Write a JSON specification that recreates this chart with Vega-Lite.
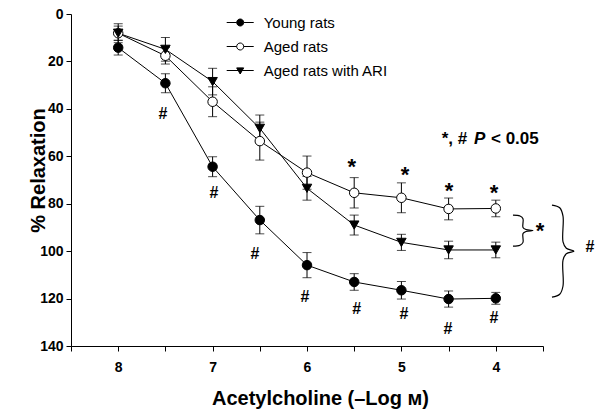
{
  "$schema": "https://vega.github.io/schema/vega-lite/v6.json",
  "width": 472,
  "height": 332,
  "autosize": {"type": "none"},
  "padding": {"left": 71, "top": 14, "right": 59, "bottom": 70},
  "background": "white",
  "config": {
    "view": {"stroke": null},
    "font": "Liberation Sans",
    "axis": {"grid": false, "domainColor": "black", "tickColor": "black", "labelColor": "black", "titleColor": "black", "labelFont": "Liberation Sans", "titleFont": "Liberation Sans", "labelFontWeight": "bold", "titleFontWeight": "bold", "labelFontSize": 14, "titleFontSize": 20, "tickSize": 5, "domainWidth": 1, "tickWidth": 1}
  },
  "datasets": {
    "rats": [
      {"series": "Young rats", "conc": 8, "mean": 14.2, "err": 3.1},
      {"series": "Young rats", "conc": 7.5, "mean": 29.2, "err": 4},
      {"series": "Young rats", "conc": 7, "mean": 64.4, "err": 4.2},
      {"series": "Young rats", "conc": 6.5, "mean": 86.9, "err": 5.8},
      {"series": "Young rats", "conc": 6, "mean": 105.9, "err": 5.3},
      {"series": "Young rats", "conc": 5.5, "mean": 113.0, "err": 3.5},
      {"series": "Young rats", "conc": 5, "mean": 116.5, "err": 3.7},
      {"series": "Young rats", "conc": 4.5, "mean": 120.2, "err": 3.4},
      {"series": "Young rats", "conc": 4, "mean": 119.9, "err": 2.5},
      {"series": "Aged rats", "conc": 8, "mean": 8.1, "err": 3},
      {"series": "Aged rats", "conc": 7.5, "mean": 17.6, "err": 3.5},
      {"series": "Aged rats", "conc": 7, "mean": 37.0, "err": 6.3},
      {"series": "Aged rats", "conc": 6.5, "mean": 53.6, "err": 8},
      {"series": "Aged rats", "conc": 6, "mean": 66.9, "err": 7},
      {"series": "Aged rats", "conc": 5.5, "mean": 75.4, "err": 6.4},
      {"series": "Aged rats", "conc": 5, "mean": 77.5, "err": 6.3},
      {"series": "Aged rats", "conc": 4.5, "mean": 82.2, "err": 4.6},
      {"series": "Aged rats", "conc": 4, "mean": 82.0, "err": 3.5},
      {"series": "Aged rats with ARI", "conc": 8, "mean": 8.1, "err": 4},
      {"series": "Aged rats with ARI", "conc": 7.5, "mean": 14.9, "err": 5},
      {"series": "Aged rats with ARI", "conc": 7, "mean": 28.5, "err": 5.6},
      {"series": "Aged rats with ARI", "conc": 6.5, "mean": 48.2, "err": 5.6},
      {"series": "Aged rats with ARI", "conc": 6, "mean": 73.5, "err": 5},
      {"series": "Aged rats with ARI", "conc": 5.5, "mean": 89.0, "err": 4.2},
      {"series": "Aged rats with ARI", "conc": 5, "mean": 96.3, "err": 3.4},
      {"series": "Aged rats with ARI", "conc": 4.5, "mean": 99.5, "err": 3.7},
      {"series": "Aged rats with ARI", "conc": 4, "mean": 99.5, "err": 3.3}
    ],
    "hashes": [
      {"conc": 7.525, "mean": 44.2, "label": "#"},
      {"conc": 6.985, "mean": 77.8, "label": "#"},
      {"conc": 6.551, "mean": 103.3, "label": "#"},
      {"conc": 6.021, "mean": 121.6, "label": "#"},
      {"conc": 5.474, "mean": 126.4, "label": "#"},
      {"conc": 4.972, "mean": 128.8, "label": "#"},
      {"conc": 4.506, "mean": 134.9, "label": "#"},
      {"conc": 4.019, "mean": 130.2, "label": "#"},
      {"conc": 3.002, "mean": 100.5, "label": "#"}
    ],
    "stars": [
      {"conc": 5.526, "mean": 67.6, "label": "*"},
      {"conc": 4.962, "mean": 70.8, "label": "*"},
      {"conc": 4.496, "mean": 77.4, "label": "*"},
      {"conc": 4.019, "mean": 78.4, "label": "*"},
      {"conc": 3.532, "mean": 94.3, "label": "*"}
    ],
    "pnote": [
      {"conc": 4.573, "mean": 54.96, "label": "*, #", "part": "a"},
      {"conc": 4.231, "mean": 54.96, "label": "P", "part": "b"},
      {"conc": 4.051, "mean": 54.96, "label": "< 0.05", "part": "c"}
    ],
    "braces": [
      {"brace": "s", "i": 1, "conc": 3.818, "mean": 84.8},
      {"brace": "s", "i": 2, "conc": 3.744, "mean": 85.2},
      {"brace": "s", "i": 3, "conc": 3.712, "mean": 86.3},
      {"brace": "s", "i": 4, "conc": 3.712, "mean": 90.0},
      {"brace": "s", "i": 5, "conc": 3.68, "mean": 90.9},
      {"brace": "s", "i": 6, "conc": 3.606, "mean": 91.3},
      {"brace": "s", "i": 7, "conc": 3.68, "mean": 91.7},
      {"brace": "s", "i": 8, "conc": 3.712, "mean": 92.6},
      {"brace": "s", "i": 9, "conc": 3.712, "mean": 96.3},
      {"brace": "s", "i": 10, "conc": 3.744, "mean": 97.5},
      {"brace": "s", "i": 11, "conc": 3.818, "mean": 97.9},
      {"brace": "b", "i": 1, "conc": 3.405, "mean": 80.6},
      {"brace": "b", "i": 2, "conc": 3.323, "mean": 81.7},
      {"brace": "b", "i": 3, "conc": 3.288, "mean": 85.2},
      {"brace": "b", "i": 4, "conc": 3.288, "mean": 96.1},
      {"brace": "b", "i": 5, "conc": 3.253, "mean": 98.8},
      {"brace": "b", "i": 6, "conc": 3.172, "mean": 100.0},
      {"brace": "b", "i": 7, "conc": 3.253, "mean": 101.1},
      {"brace": "b", "i": 8, "conc": 3.288, "mean": 103.8},
      {"brace": "b", "i": 9, "conc": 3.288, "mean": 114.7},
      {"brace": "b", "i": 10, "conc": 3.323, "mean": 118.2},
      {"brace": "b", "i": 11, "conc": 3.405, "mean": 119.4}
    ]
  },
  "encoding": {
    "x": {"field": "conc", "type": "quantitative", "scale": {"domain": [3.5, 8.5], "reverse": true, "nice": false, "zero": false},
      "axis": {"title": "Acetylcholine (–Log ᴍ)", "values": [8.5, 8, 7.5, 7, 6.5, 6, 5.5, 5, 4.5, 4, 3.5], "labelExpr": "datum.value % 1 === 0 ? format(datum.value, 'd') : ''", "labelPadding": 9, "titleX": 249, "titleY": 58, "titleAlign": "center", "titleBaseline": "alphabetic"}},
    "y": {"field": "mean", "type": "quantitative", "scale": {"domain": [0, 140], "reverse": true, "nice": false, "zero": false},
      "axis": {"title": "% Relaxation", "values": [0, 20, 40, 60, 80, 100, 120, 140], "labelPadding": 3, "titleX": -27, "titleY": 156, "titleAlign": "center", "titleBaseline": "alphabetic", "titleAngle": -90}}
  },
  "layer": [
    {
      "data": {"name": "rats"},
      "mark": {"type": "line", "color": "black", "strokeWidth": 1},
      "encoding": {"detail": {"field": "series"}}
    },
    {
      "data": {"name": "rats"},
      "mark": {"type": "errorbar", "color": "black", "ticks": {"size": 9, "color": "black"}, "rule": {"strokeWidth": 1}},
      "encoding": {"yError": {"field": "err"}, "detail": {"field": "series"}}
    },
    {
      "data": {"name": "rats"},
      "mark": {"type": "point", "filled": false, "size": 90, "stroke": "black", "strokeWidth": 1, "opacity": 1},
      "encoding": {
        "shape": {"field": "series", "type": "nominal", "scale": {"domain": ["Young rats", "Aged rats", "Aged rats with ARI"], "range": ["circle", "circle", "triangle-down"]}, "legend": null},
        "fill": {"field": "series", "type": "nominal", "scale": {"domain": ["Young rats", "Aged rats", "Aged rats with ARI"], "range": ["black", "white", "black"]}, "legend": null}
      }
    },
    {
      "data": {"values": []},
      "mark": {"type": "point", "filled": false, "size": 49, "strokeWidth": 1, "opacity": 1},
      "encoding": {
        "shape": {"field": "group", "type": "nominal", "title": null,
          "scale": {"domain": ["Young rats", "Aged rats", "Aged rats with ARI"], "range": ["M-3.86,0L-1,0M1,0L3.86,0M-1,0A1,1,0,1,1,1,0A1,1,0,1,1,-1,0Z", "M-3.86,0L-1,0M1,0L3.86,0M-1,0A1,1,0,1,1,1,0A1,1,0,1,1,-1,0Z", "M-3.86,0L3.86,0M-1,-0.75L1,-0.75L0,1Z"]},
          "legend": {"orient": "none", "legendX": 161.7, "legendY": 1, "padding": 0, "symbolSize": 49, "symbolStrokeWidth": 1, "labelFont": "Liberation Sans", "labelFontSize": 15, "labelColor": "black", "labelOffset": 16, "rowPadding": 8, "labelLimit": 300}},
        "fill": {"field": "group", "type": "nominal", "title": null,
          "scale": {"domain": ["Young rats", "Aged rats", "Aged rats with ARI"], "range": ["black", "white", "black"]}},
        "stroke": {"field": "group", "type": "nominal", "title": null,
          "scale": {"domain": ["Young rats", "Aged rats", "Aged rats with ARI"], "range": ["black", "black", "black"]}}
      }
    },
    {
      "data": {"name": "braces"},
      "mark": {"type": "line", "color": "black", "strokeWidth": 1.2, "interpolate": "catmull-rom", "clip": false},
      "encoding": {"detail": {"field": "brace"}, "order": {"field": "i", "type": "quantitative"}}
    },
    {
      "data": {"name": "hashes"},
      "mark": {"type": "text", "font": "Liberation Sans", "fontWeight": "bold", "fontSize": 16, "align": "center", "baseline": "alphabetic", "color": "black", "clip": false},
      "encoding": {"text": {"field": "label"}}
    },
    {
      "data": {"name": "stars"},
      "mark": {"type": "text", "font": "Liberation Sans", "fontWeight": "bold", "fontSize": 22, "align": "center", "baseline": "alphabetic", "color": "black", "clip": false},
      "encoding": {"text": {"field": "label"}}
    },
    {
      "data": {"name": "pnote"},
      "transform": [{"filter": "datum.part !== 'b'"}],
      "mark": {"type": "text", "font": "Liberation Sans", "fontWeight": "bold", "fontSize": 17, "align": "left", "baseline": "alphabetic", "color": "black"},
      "encoding": {"text": {"field": "label"}}
    },
    {
      "data": {"name": "pnote"},
      "transform": [{"filter": "datum.part === 'b'"}],
      "mark": {"type": "text", "font": "Liberation Sans", "fontWeight": "bold", "fontStyle": "italic", "fontSize": 17, "align": "left", "baseline": "alphabetic", "color": "black"},
      "encoding": {"text": {"field": "label"}}
    }
  ],
  "resolve": {"scale": {"shape": "independent", "fill": "independent", "stroke": "independent"}, "legend": {"shape": "independent", "fill": "independent", "stroke": "independent"}}
}
